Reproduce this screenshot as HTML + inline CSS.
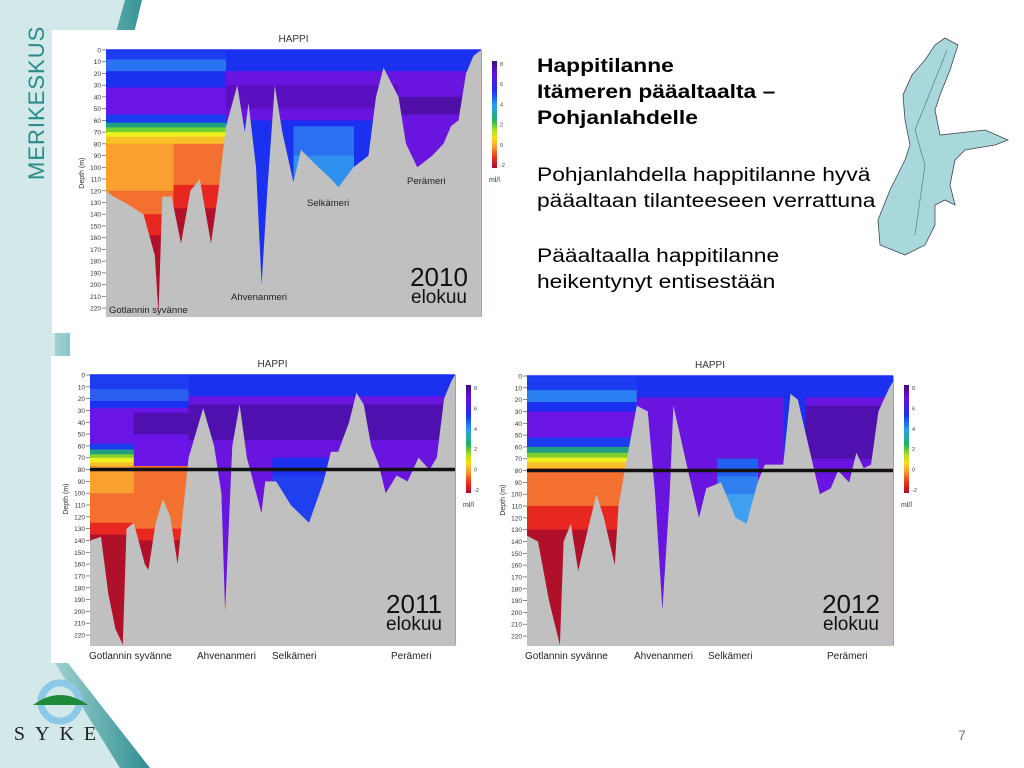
<!DOCTYPE html>
<html><head><meta charset="utf-8">
<style>
body{margin:0;width:1024px;height:768px;overflow:hidden;background:#fff;font-family:"Liberation Sans",sans-serif;position:relative}
svg{position:absolute;left:0;top:0}
.t{position:absolute;left:537px;font-size:19px;line-height:26px;color:#000;margin:0;transform:scaleX(1.2);transform-origin:0 0;white-space:nowrap}
</style></head><body>
<svg width="1024" height="768">
<defs><linearGradient id="stripe" x1="0" y1="0" x2="1" y2="0"><stop offset="0" stop-color="#9fd0d0"/><stop offset="1" stop-color="#2e8f92"/></linearGradient>
<linearGradient id="cbar" x1="0" y1="0" x2="0" y2="1"><stop offset="0" stop-color="#3a0a80"/><stop offset=".12" stop-color="#6a10e0"/><stop offset=".28" stop-color="#1a30f0"/><stop offset=".42" stop-color="#2aa0f0"/><stop offset=".55" stop-color="#20b060"/><stop offset=".65" stop-color="#b0e020"/><stop offset=".72" stop-color="#f8e010"/><stop offset=".8" stop-color="#f8a030"/><stop offset=".9" stop-color="#f03020"/><stop offset="1" stop-color="#a8102a"/></linearGradient></defs>
<polygon points="0,0 125,0 60,250 60,663 140,768 0,768" fill="#d3e8e8"/>
<polygon points="125,0 142,0 70,300 70,663 68,663 150,768 120,768 55,663 55,250" fill="url(#stripe)"/>
<text transform="translate(44,180) rotate(-90)" font-size="22" fill="#2a8a8c" font-family="Liberation Sans,sans-serif" letter-spacing="1">MERIKESKUS</text>
<g>
<circle cx="60" cy="702" r="19" fill="none" stroke="#8cc8e8" stroke-width="7"/>
<path d="M33,705 Q60,685 88,705 Z" fill="#1f8a3a"/>
<text x="60" y="740" text-anchor="middle" font-family="Liberation Serif,serif" font-size="20" letter-spacing="10" fill="#222">SYKE</text>
</g>
<polygon fill="#a9d8dc" stroke="#445" stroke-width="0.8" points="945,38 958,45 950,70 940,95 935,110 940,135 985,130 1008,140 995,145 965,150 955,160 950,185 955,205 945,200 935,205 935,225 925,245 905,255 880,245 878,220 890,190 905,160 910,145 905,120 903,95 912,75 925,60 935,45"/>
<polyline points="947,50 915,130 925,165 915,235" fill="none" stroke="#5a8890" stroke-width="0.8"/>
<text x="958" y="740" font-size="14" fill="#777">7</text>
</svg>
<svg id="charts" width="1024" height="768"></svg>
<p class="t" style="top:54px;font-weight:bold">Happitilanne<br>Itämeren pääaltaalta –<br>Pohjanlahdelle</p>
<p class="t" style="top:163px">Pohjanlahdella happitilanne hyvä<br>pääaltaan tilanteeseen verrattuna</p>
<p class="t" style="top:244px">Pääaltaalla happitilanne<br>heikentynyt entisestään</p>
<script>
// bathymetry: [x fraction, depth m]
const bottom2010=[[0,120],[0.02,125],[0.05,130],[0.1,140],[0.13,175],[0.14,225],[0.15,125],[0.175,125],[0.2,165],[0.225,120],[0.25,110],[0.28,165],[0.3,120],[0.32,65],[0.35,30],[0.37,70],[0.38,45],[0.4,100],[0.415,200],[0.43,120],[0.45,30],[0.47,70],[0.5,113],[0.52,85],[0.55,95],[0.6,110],[0.62,117],[0.66,100],[0.7,90],[0.72,40],[0.74,15],[0.78,40],[0.8,80],[0.83,100],[0.87,90],[0.9,80],[0.92,65],[0.94,60],[0.96,20],[0.98,5],[1,0]];
const bottom2011=[[0,140],[0.03,137],[0.05,185],[0.07,215],[0.09,228],[0.1,130],[0.12,125],[0.15,160],[0.16,165],[0.18,125],[0.2,105],[0.22,120],[0.24,160],[0.26,100],[0.27,70],[0.31,28],[0.34,60],[0.36,100],[0.37,200],[0.39,60],[0.41,25],[0.43,70],[0.47,117],[0.48,90],[0.51,90],[0.55,110],[0.6,125],[0.64,90],[0.66,65],[0.68,65],[0.71,40],[0.73,15],[0.75,25],[0.77,60],[0.79,75],[0.81,100],[0.84,85],[0.87,90],[0.9,70],[0.93,80],[0.95,70],[0.97,20],[0.99,5],[1,0]];
const bottom2012=[[0,135],[0.03,140],[0.045,165],[0.06,190],[0.09,228],[0.1,140],[0.12,125],[0.14,165],[0.17,125],[0.19,100],[0.21,120],[0.24,160],[0.25,110],[0.27,75],[0.3,25],[0.33,30],[0.35,100],[0.37,198],[0.39,100],[0.4,25],[0.44,80],[0.47,120],[0.49,95],[0.53,90],[0.57,120],[0.6,125],[0.63,90],[0.65,75],[0.68,75],[0.7,75],[0.72,15],[0.74,20],[0.77,60],[0.8,100],[0.83,95],[0.85,80],[0.88,90],[0.9,65],[0.92,78],[0.94,75],[0.96,30],[0.99,10],[1,5]];
// colour zones: [x0, x1, [[depthFrom, colour], ...]]
const zones2010=[[0,0.32,[[0,"#1c3ef0"],[8,"#2a72f0"],[18,"#1c30f0"],[32,"#6a14e6"],[55,"#1c3cf0"],[62,"#20a080"],[66,"#70d030"],[70,"#f0f020"],[74,"#f8c028"],[80,"#f8a030"],[120,"#f47030"],[140,"#e82820"],[158,"#b0102a"]]],[0.18,0.32,[[80,"#f47030"],[115,"#e82820"],[135,"#b0102a"]]],[0.32,1,[[0,"#1c30f0"],[18,"#6a14e0"],[30,"#5a10c0"],[50,"#6a14e0"],[60,"#1c30f0"]]],[0.5,0.66,[[65,"#2a70f0"],[90,"#3090f0"]]],[0.78,1,[[20,"#6a14e0"],[40,"#5010a8"],[55,"#6a14e0"]]]];
const zones2011=[[0,0.27,[[0,"#1c3ef0"],[12,"#2a60f0"],[22,"#1c30f0"],[28,"#6a14e6"],[58,"#1c3cf0"],[63,"#20a080"],[67,"#80d030"],[70,"#f0f020"],[74,"#f8c028"],[77,"#f8a030"],[100,"#f47030"],[125,"#e82820"],[135,"#b0102a"]]],[0.12,0.27,[[32,"#5010b0"],[50,"#6a14e6"],[77,"#f47030"],[110,"#f47030"],[130,"#e82820"],[140,"#b0102a"]]],[0.27,1,[[0,"#1c30f0"],[18,"#6a14e0"],[25,"#5010b0"],[55,"#6a14e0"]]],[0.5,0.66,[[70,"#1c30f0"],[85,"#2040f0"]]]];
const zones2012=[[0,0.3,[[0,"#1c3ef0"],[12,"#2a80f0"],[22,"#1c30f0"],[30,"#6a14e6"],[52,"#1c3cf0"],[60,"#20a080"],[65,"#80d030"],[69,"#f0f020"],[73,"#f8c028"],[78,"#f47030"],[110,"#e82820"],[130,"#b0102a"]]],[0.3,1,[[0,"#1c30f0"],[18,"#6a14e0"]]],[0.52,0.63,[[70,"#2060f0"],[85,"#3080f0"],[100,"#40a0f0"]]],[0.76,1,[[25,"#5010b0"],[70,"#6a14e0"]]],[0.7,0.76,[[0,"#1c30f0"]]]];
const depthTicks=[0,10,20,30,40,50,60,70,80,90,100,110,120,130,140,150,160,170,180,190,200,210,220];
const cbarTicks=[8,6,4,2,0,-2];
const basinLabels=["Gotlannin syvänne","Ahvenanmeri","Selkämeri","Perämeri"];

const NS="http://www.w3.org/2000/svg";
const root=document.getElementById('charts');
function mk(tag,attrs,parent){const e=document.createElementNS(NS,tag);for(const k in attrs)e.setAttribute(k,attrs[k]);parent.appendChild(e);return e;}

function chart(cfg){
  const g=mk('g',{},root);
  
  
  const panel=mk('rect',{x:cfg.px,y:cfg.py,width:cfg.pw,height:cfg.ph,fill:'#fff'},g);
  
  
  const X=f=>cfg.x0+f*(cfg.x1-cfg.x0);
  const Y=d=>cfg.y0+d*cfg.k;
  const maxD=(cfg.yb-cfg.y0)/cfg.k;
  cfg.zones.forEach(z=>{
    const bands=z[2];
    bands.forEach((b,i)=>{
      const d1=i+1<bands.length?bands[i+1][0]:maxD;
      const r=mk('rect',{x:X(z[0]),y:Y(b[0]),width:X(z[1])-X(z[0])+0.5,height:Math.max(0,Math.min(Y(d1),cfg.yb)-Y(b[0])+0.5),fill:b[1]},g);
      
      
    });
  });
  let pts=cfg.bottom.map(p=>X(p[0]).toFixed(1)+','+Math.min(Y(p[1]),cfg.yb).toFixed(1));
  pts.push(X(1)+','+(cfg.yb+1), X(0)+','+(cfg.yb+1));
  const sea=mk('polygon',{points:pts.join(' '),fill:'#c0c0c0'},g);
  
  
  mk('line',{x1:X(0),x2:X(1),y1:cfg.y0,y2:cfg.y0,stroke:'#1c30f0','stroke-width':1.5},g);
  if(cfg.line){const l=mk('line',{x1:X(0),x2:X(1),y1:Y(80),y2:Y(80),stroke:'#111','stroke-width':3.5},g);
    
    }
  depthTicks.forEach(d=>{
    mk('line',{x1:X(0)-4,x2:X(0),y1:Y(d),y2:Y(d),stroke:'#555','stroke-width':0.7},g);
    const t=mk('text',{x:X(0)-5,y:Y(d)+2.5,'font-size':6.5,'text-anchor':'end',fill:'#333'},g);
    t.textContent=d;
    
    
  });
  const yt=mk('text',{transform:`translate(${cfg.x0-22},${Y(105)}) rotate(-90)`,'font-size':7,'text-anchor':'middle',fill:'#333'},g);
  yt.textContent='Depth (m)';
  
  
  const ti=mk('text',{x:(X(0)+X(1))/2,y:cfg.y0-8,'font-size':10,'text-anchor':'middle',fill:'#333'},g);
  ti.textContent='HAPPI';
  
  
  const cb=mk('rect',{x:cfg.cbx,y:cfg.cby,width:5,height:cfg.cbh,fill:'url(#cbar)'},g);
  
  
  cbarTicks.forEach((v,i)=>{
    const yy=cfg.cby+3+i*(cfg.cbh-6)/(cbarTicks.length-1);
    const t=mk('text',{x:cfg.cbx+8,y:yy+2,'font-size':5.5,fill:'#444'},g);
    t.textContent=v;
    
    
  });
  const u=mk('text',{x:cfg.cbx-3,y:cfg.cby+cfg.cbh+14,'font-size':7,fill:'#333'},g);
  u.textContent='ml/l';
  
  
  cfg.labels.forEach((L,i)=>{
    const t=mk('text',{x:L[0],y:L[1],'font-size':cfg.lfs,fill:'#222'},g);
    t.textContent=basinLabels[i];
    
    
  });
  const y1=mk('text',{x:cfg.yx,y:cfg.yy,'font-size':26,'text-anchor':'middle',fill:'#111'},g);
  y1.textContent=String(cfg.year);
  
  
  const y2=mk('text',{x:cfg.yx,y:cfg.yy+17,'font-size':19,'text-anchor':'middle',fill:'#111'},g);
  y2.textContent='elokuu';
  
  
}
chart({year:2010,px:52,py:30,pw:433,ph:303,x0:106,x1:481,y0:50,k:1.173,yb:316,bottom:bottom2010,zones:zones2010,line:false,cbx:492,cby:61,cbh:107,lfs:9.5,
  labels:[[109,313],[231,300],[307,206],[407,184]],yx:439,yy:286});
chart({year:2011,px:51,py:356,pw:404,ph:307,x0:90,x1:455,y0:375,k:1.182,yb:645,bottom:bottom2011,zones:zones2011,line:true,cbx:466,cby:385,cbh:108,lfs:10,
  labels:[[89,659],[197,659],[272,659],[391,659]],yx:414,yy:613});
chart({year:2012,px:495,py:356,pw:440,ph:307,x0:527,x1:893,y0:376,k:1.182,yb:645,bottom:bottom2012,zones:zones2012,line:true,cbx:904,cby:385,cbh:108,lfs:10,
  labels:[[525,659],[634,659],[708,659],[827,659]],yx:851,yy:613});
</script>
</body></html>
